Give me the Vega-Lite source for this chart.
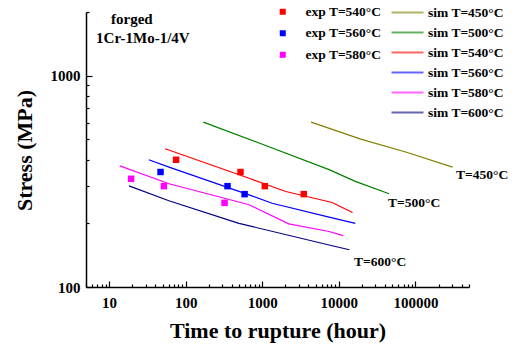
{
  "$schema": "https://vega.github.io/schema/vega-lite/v6.json",
  "width": 383,
  "height": 275,
  "autosize": {"type": "none"},
  "padding": {"left": 86, "top": 12, "right": 46, "bottom": 58},
  "background": "white",
  "config": {
    "view": {"stroke": null},
    "font": "Liberation Serif",
    "axis": {
      "grid": false,
      "domainColor": "black",
      "domainWidth": 1.5,
      "tickColor": "black",
      "tickWidth": 1.2,
      "labelFont": "Liberation Serif",
      "labelFontWeight": "bold",
      "labelFontSize": 15,
      "labelColor": "black",
      "labelOverlap": false,
      "labelFlush": false,
      "titleFont": "Liberation Serif",
      "titleFontWeight": "bold",
      "titleFontSize": 22,
      "titleColor": "black"
    },
    "legend": {
      "labelFont": "Liberation Serif",
      "labelFontWeight": "bold",
      "labelFontSize": 13.5,
      "labelColor": "black",
      "title": null,
      "orient": "none"
    }
  },
  "datasets": {
    "sim": [
      {"series": "sim T=450°C", "time": 4340, "stress": 603},
      {"series": "sim T=450°C", "time": 19300, "stress": 501},
      {"series": "sim T=450°C", "time": 78300, "stress": 433},
      {"series": "sim T=450°C", "time": 305000, "stress": 369},
      {"series": "sim T=500°C", "time": 170, "stress": 603},
      {"series": "sim T=500°C", "time": 908, "stress": 480},
      {"series": "sim T=500°C", "time": 7450, "stress": 359},
      {"series": "sim T=500°C", "time": 16400, "stress": 316},
      {"series": "sim T=500°C", "time": 45200, "stress": 276},
      {"series": "sim T=540°C", "time": 54, "stress": 451},
      {"series": "sim T=540°C", "time": 673, "stress": 327},
      {"series": "sim T=540°C", "time": 2030, "stress": 283},
      {"series": "sim T=540°C", "time": 8150, "stress": 251},
      {"series": "sim T=540°C", "time": 15100, "stress": 225},
      {"series": "sim T=560°C", "time": 33, "stress": 400},
      {"series": "sim T=560°C", "time": 60.7, "stress": 369},
      {"series": "sim T=560°C", "time": 673, "stress": 273},
      {"series": "sim T=560°C", "time": 1345, "stress": 249},
      {"series": "sim T=560°C", "time": 7450, "stress": 214},
      {"series": "sim T=560°C", "time": 16400, "stress": 200},
      {"series": "sim T=580°C", "time": 13.8, "stress": 374},
      {"series": "sim T=580°C", "time": 60.7, "stress": 308},
      {"series": "sim T=580°C", "time": 673, "stress": 245},
      {"series": "sim T=580°C", "time": 2220, "stress": 199},
      {"series": "sim T=580°C", "time": 7450, "stress": 183},
      {"series": "sim T=580°C", "time": 11400, "stress": 175},
      {"series": "sim T=600°C", "time": 18.2, "stress": 301},
      {"series": "sim T=600°C", "time": 60.5, "stress": 256},
      {"series": "sim T=600°C", "time": 495, "stress": 200},
      {"series": "sim T=600°C", "time": 7450, "stress": 158},
      {"series": "sim T=600°C", "time": 13700, "stress": 150}
    ],
    "exp": [
      {"series": "exp T=540°C", "time": 75, "stress": 400},
      {"series": "exp T=540°C", "time": 520, "stress": 350},
      {"series": "exp T=540°C", "time": 1080, "stress": 300},
      {"series": "exp T=540°C", "time": 3480, "stress": 275},
      {"series": "exp T=560°C", "time": 47, "stress": 350},
      {"series": "exp T=560°C", "time": 352, "stress": 300},
      {"series": "exp T=560°C", "time": 588, "stress": 275},
      {"series": "exp T=580°C", "time": 19.4, "stress": 325},
      {"series": "exp T=580°C", "time": 52, "stress": 300},
      {"series": "exp T=580°C", "time": 322, "stress": 250}
    ],
    "notes": [
      {"label": "T=450°C", "time": 339000, "stress": 340, "size": 13.5},
      {"label": "T=500°C", "time": 43900, "stress": 250, "size": 13.5},
      {"label": "T=600°C", "time": 15800, "stress": 131, "size": 13.5},
      {"label": "forged", "time": 10.6, "stress": 1862, "size": 15},
      {"label": "1Cr-1Mo-1/4V", "time": 6.77, "stress": 1513, "size": 15}
    ]
  },
  "encoding": {
    "x": {
      "field": "time",
      "type": "quantitative",
      "scale": {"type": "log", "domain": [5, 500000], "nice": false},
      "axis": {
        "title": "Time to rupture (hour)",
        "titleX": 191.5,
        "titleY": 43,
        "titleBaseline": "middle",
        "values": [5, 6, 7, 8, 9, 10, 20, 30, 40, 50, 60, 70, 80, 90, 100, 200, 300, 400, 500, 600, 700, 800, 900, 1000, 2000, 3000, 4000, 5000, 6000, 7000, 8000, 9000, 10000, 20000, 30000, 40000, 50000, 60000, 70000, 80000, 90000, 100000, 200000, 300000, 400000, 500000],
        "format": "d",
        "labelExpr": "indexof([10, 100, 1000, 10000, 100000], datum.value) >= 0 ? datum.label : ''",
        "tickSize": {"condition": {"test": "indexof([10, 100, 1000, 10000, 100000], datum.value) >= 0", "value": -6}, "value": -3},
        "labelPadding": 14
      }
    },
    "y": {
      "field": "stress",
      "type": "quantitative",
      "scale": {"type": "log", "domain": [100, 2000], "nice": false},
      "axis": {
        "title": "Stress (MPa)",
        "titleX": -62,
        "titleY": 138,
        "titleAngle": -90,
        "titleAlign": "center",
        "titleBaseline": "middle",
        "values": [100, 200, 300, 400, 500, 600, 700, 800, 900, 1000, 2000],
        "format": "d",
        "labelExpr": "datum.value == 100 || datum.value == 1000 ? datum.label : ''",
        "tickSize": {"condition": {"test": "datum.value == 100 || datum.value == 1000", "value": -6}, "value": -3},
        "labelPadding": 12
      }
    }
  },
  "layer": [
    {
      "data": {"name": "sim"},
      "mark": {"type": "line", "strokeWidth": 1.2},
      "encoding": {
        "stroke": {
          "field": "series",
          "type": "nominal",
          "scale": {
            "domain": ["sim T=450°C", "sim T=500°C", "sim T=540°C", "sim T=560°C", "sim T=580°C", "sim T=600°C"],
            "range": ["#808000", "#008000", "#ff0000", "#0000ff", "#ff00ff", "#000080"]
          },
          "legend": {
            "symbolType": "M-2,0H2",
            "symbolSize": 256,
            "symbolStrokeWidth": 2.2,
            "symbolOpacity": 0.6,
            "rowPadding": 4,
            "labelOffset": 11,
            "legendX": 312,
            "legendY": -9
          }
        }
      }
    },
    {
      "data": {"name": "exp"},
      "mark": {"type": "point", "shape": "square", "filled": true, "size": 42, "opacity": 1},
      "encoding": {
        "fill": {
          "field": "series",
          "type": "nominal",
          "scale": {
            "domain": ["exp T=540°C", "exp T=560°C", "exp T=580°C"],
            "range": ["#ff0000", "#0000ff", "#ff00ff"]
          },
          "legend": {
            "symbolType": "square",
            "symbolSize": 36,
            "symbolStrokeWidth": 0,
            "symbolOpacity": 1,
            "rowPadding": 6.5,
            "labelOffset": 16,
            "legendX": 190,
            "legendY": -7
          }
        }
      }
    },
    {
      "data": {"name": "notes"},
      "mark": {"type": "text", "align": "left", "baseline": "middle", "fontWeight": "bold", "font": "Liberation Serif", "color": "black"},
      "encoding": {
        "text": {"field": "label"},
        "size": {"field": "size", "type": "quantitative", "scale": null}
      }
    }
  ]
}
